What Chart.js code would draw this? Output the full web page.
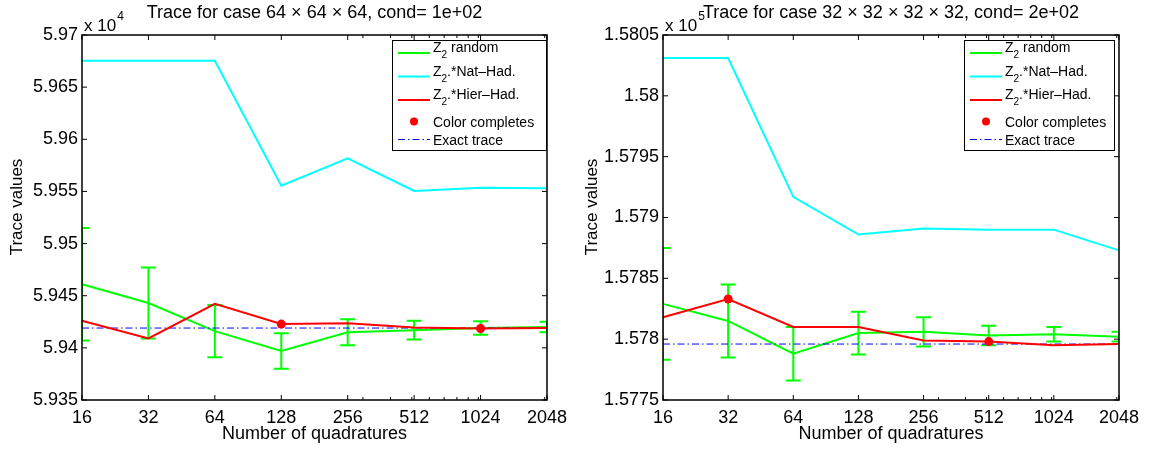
<!DOCTYPE html>
<html>
<head>
<meta charset="utf-8">
<script src="https://cdn.jsdelivr.net/npm/chart.js@4.4.0/dist/chart.umd.min.js"></script>
<style>
  html, body { margin: 0; padding: 0; background: #fff; }
  #wrap { position: relative; width: 1150px; height: 449px; }
  #wrap canvas { position: absolute; top: 0; }
</style>
</head>
<body>
<div id="wrap">
  <canvas id="leftChart" width="575" height="449" style="left:0"></canvas>
  <canvas id="rightChart" width="575" height="449" style="left:575px"></canvas>
</div>
<script>
const quadratures = ["16", "32", "64", "128", "256", "512", "1024", "2048"];

// left panel, 64x64x64 (values in units of 1e4)
const leftRandom = [5.9461, 5.9443, 5.9416, 5.9397, 5.9415, 5.9417, 5.9419, 5.9420];
const leftRandomErr = [0.0054, 0.0034, 0.0025, 0.0017, 0.00125, 0.0009, 0.00065, 0.0005];
const leftNatHad = [5.96753, 5.96753, 5.96753, 5.95555, 5.95817, 5.95505, 5.95535, 5.9553];
const leftHierHad = [5.9426, 5.9409, 5.94423, 5.94228, 5.94237, 5.94195, 5.94186, 5.9419];
const leftExact = 5.9419;
const leftCompleteIdx = [3, 6];

// right panel, 32x32x32x32 (values in units of 1e5)
const rightRandom = [1.57829, 1.57815, 1.57788, 1.57805, 1.57806, 1.57803, 1.57804, 1.57802];
const rightRandomErr = [0.00046, 0.0003, 0.00022, 0.000175, 0.00012, 0.00008, 0.00006, 0.00004];
const rightNatHad = [1.58031, 1.58031, 1.57917, 1.57886, 1.57891, 1.5789, 1.5789, 1.57873];
const rightHierHad = [1.57818, 1.57833, 1.5781, 1.5781, 1.57799, 1.57798, 1.57795, 1.57796];
const rightExact = 1.57796;
const rightCompleteIdx = [1, 5];

const minorTicks = [300, 400, 500, 600, 700, 800, 900, 1000, 2000];

const FONT = '"Liberation Sans", Arial, Helvetica, sans-serif';
Chart.defaults.font.family = FONT;
Chart.defaults.color = "#000";

// green error bars, drawn through the chart scales
const errorBars = {
  id: "errorBars",
  beforeDatasetsDraw(chart, args, opts) {
    const { ctx, chartArea: a, scales: { x, y } } = chart;
    ctx.save();
    ctx.beginPath();
    ctx.rect(a.left, a.top, a.width, a.height);
    ctx.clip();
    ctx.strokeStyle = "#00ff00";
    ctx.lineWidth = 2;
    opts.values.forEach((v, i) => {
      const px = x.getPixelForValue(i);
      const top = y.getPixelForValue(v + opts.errors[i]);
      const bot = y.getPixelForValue(v - opts.errors[i]);
      ctx.beginPath();
      ctx.moveTo(px, top); ctx.lineTo(px, bot);
      ctx.moveTo(px - 7.5, top); ctx.lineTo(px + 7.5, top);
      ctx.moveTo(px - 7.5, bot); ctx.lineTo(px + 7.5, bot);
      ctx.stroke();
    });
    ctx.restore();
  }
};

// box, inward ticks, titles, exponent and legend
const frame = {
  id: "frame",
  afterDraw(chart, args, opts) {
    const { ctx, chartArea: a, scales: { x, y } } = chart;
    ctx.save();
    ctx.strokeStyle = "#000";
    ctx.lineWidth = 1.5;
    ctx.strokeRect(a.left, a.top, a.width, a.height);
    ctx.lineWidth = 1;
    ctx.beginPath();
    y.ticks.forEach(t => {
      const py = y.getPixelForValue(t.value);
      ctx.moveTo(a.left, py); ctx.lineTo(a.left + 5, py);
      ctx.moveTo(a.right, py); ctx.lineTo(a.right - 5, py);
    });
    quadratures.forEach((q, i) => {
      const px = x.getPixelForValue(i);
      ctx.moveTo(px, a.bottom); ctx.lineTo(px, a.bottom - 5);
      ctx.moveTo(px, a.top); ctx.lineTo(px, a.top + 5);
    });
    minorTicks.forEach(n => {
      const px = x.getPixelForDecimal((Math.log2(n) - 4) / (quadratures.length - 1));
      ctx.moveTo(px, a.bottom); ctx.lineTo(px, a.bottom - 3);
      ctx.moveTo(px, a.top); ctx.lineTo(px, a.top + 3);
    });
    ctx.stroke();

    // title
    ctx.fillStyle = "#000";
    ctx.font = "18px " + FONT;
    ctx.textAlign = "center";
    ctx.textBaseline = "middle";
    ctx.fillText(opts.title, (a.left + a.right) / 2, 13);

    // y axis label
    ctx.save();
    ctx.translate(17, 207);
    ctx.rotate(-Math.PI / 2);
    ctx.font = "17px " + FONT;
    ctx.fillText("Trace values", 0, 0);
    ctx.restore();

    // exponent
    ctx.textAlign = "left";
    ctx.textBaseline = "alphabetic";
    ctx.font = "17px " + FONT;
    ctx.fillText("x 10", a.left + 2, 31);
    const w = ctx.measureText("x 10").width;
    ctx.font = "12px " + FONT;
    ctx.fillText(opts.exponent, a.left + 3 + w, 20);

    // legend
    const L = opts.legend;
    const bx = L.x, by = 40, bw = L.w, bh = 110;
    ctx.fillStyle = "#fff";
    ctx.fillRect(bx, by, bw, bh);
    ctx.strokeStyle = "#000";
    ctx.lineWidth = 1;
    ctx.strokeRect(bx + 0.5, by + 0.5, bw, bh);
    const rows = [
      { color: "#00ff00", text: " random", dy: 13 },
      { color: "#00ffff", text: ".*Nat\u2013Had.", dy: 36.5 },
      { color: "#ff0000", text: ".*Hier\u2013Had.", dy: 60 }
    ];
    rows.forEach(r => {
      const ly = by + r.dy;
      ctx.strokeStyle = r.color;
      ctx.lineWidth = 2;
      ctx.beginPath();
      ctx.moveTo(bx + 6, ly); ctx.lineTo(bx + 38, ly);
      ctx.stroke();
      ctx.fillStyle = "#000";
      ctx.font = "14px " + FONT;
      ctx.fillText("Z", bx + 41, ly - 1);
      const zw = ctx.measureText("Z").width;
      ctx.font = "10px " + FONT;
      ctx.fillText("2", bx + 41 + zw, ly + 5);
      const sw = ctx.measureText("2").width;
      ctx.font = "14px " + FONT;
      ctx.fillText(r.text, bx + 41 + zw + sw, ly - 1);
    });
    ctx.fillStyle = "#ff0000";
    ctx.beginPath();
    ctx.arc(bx + 22, by + 81.5, 4, 0, Math.PI * 2);
    ctx.fill();
    ctx.strokeStyle = "#0000ff";
    ctx.lineWidth = 1;
    ctx.setLineDash([7, 3, 1.5, 3]);
    ctx.beginPath();
    ctx.moveTo(bx + 6, by + 99.5); ctx.lineTo(bx + 38, by + 99.5);
    ctx.stroke();
    ctx.setLineDash([]);
    ctx.fillStyle = "#000";
    ctx.font = "14px " + FONT;
    ctx.fillText("Color completes", bx + 41, by + 86.5);
    ctx.fillText("Exact trace", bx + 41, by + 104.5);
    ctx.restore();
  }
};

function makeChart(id, p) {
  const ctx = document.getElementById(id).getContext("2d");
  return new Chart(ctx, {
    type: "line",
    data: {
      labels: quadratures,
      datasets: [
        {
          label: "Color completes",
          data: quadratures.map((q, i) => p.completeIdx.includes(i) ? p.hier[i] : null),
          showLine: false,
          pointRadius: 4.5,
          pointBackgroundColor: "#ff0000",
          pointBorderWidth: 0,
          order: 0
        },
        { label: "Z2.*Hier-Had.", data: p.hier, borderColor: "#ff0000", borderWidth: 2, pointRadius: 0, order: 1 },
        {
          label: "Exact trace",
          data: quadratures.map(() => p.exact),
          borderColor: "#0000ff",
          borderWidth: 1,
          borderDash: [7, 3, 1.5, 3],
          pointRadius: 0,
          order: 2
        },
        { label: "Z2.*Nat-Had.", data: p.nat, borderColor: "#00ffff", borderWidth: 2, pointRadius: 0, order: 3 },
        { label: "Z2 random", data: p.random, borderColor: "#00ff00", borderWidth: 2, pointRadius: 0, order: 4 }
      ]
    },
    options: {
      responsive: false,
      animation: false,
      layout: { padding: { left: 0, right: p.padRight, top: 35, bottom: 0 } },
      plugins: {
        legend: { display: false },
        tooltip: { enabled: false },
        errorBars: { values: p.random, errors: p.err },
        frame: { title: p.title, exponent: p.exponent, legend: p.legendBox }
      },
      scales: {
        x: {
          type: "category",
          offset: false,
          grid: { display: false, drawTicks: false },
          border: { display: false },
          ticks: { font: { size: 18 }, padding: 7, maxRotation: 0, autoSkip: false },
          title: { display: true, text: "Number of quadratures", font: { size: 18 }, padding: { top: 0, bottom: 4 } },
          afterFit(s) { s.height = 49; }
        },
        y: {
          min: p.min,
          max: p.max,
          grid: { display: false, drawTicks: false },
          border: { display: false },
          ticks: {
            stepSize: p.step,
            font: { size: 18 },
            padding: 4,
            callback: v => String(parseFloat(v.toFixed(5)))
          },
          afterFit(s) { s.width = p.yWidth; }
        }
      }
    },
    plugins: [errorBars, frame]
  });
}

makeChart("leftChart", {
  random: leftRandom, err: leftRandomErr, nat: leftNatHad, hier: leftHierHad,
  exact: leftExact, completeIdx: leftCompleteIdx,
  min: 5.935, max: 5.97, step: 0.005,
  title: "Trace for case 64 \u00d7 64 \u00d7 64, cond= 1e+02", exponent: "4",
  yWidth: 82, padRight: 28, legendBox: { x: 392, w: 154 }
});

makeChart("rightChart", {
  random: rightRandom, err: rightRandomErr, nat: rightNatHad, hier: rightHierHad,
  exact: rightExact, completeIdx: rightCompleteIdx,
  min: 1.5775, max: 1.5805, step: 0.0005,
  title: "Trace for case 32 \u00d7 32 \u00d7 32 \u00d7 32, cond= 2e+02", exponent: "5",
  yWidth: 88, padRight: 31, legendBox: { x: 389, w: 150 }
});
</script>
</body>
</html>
